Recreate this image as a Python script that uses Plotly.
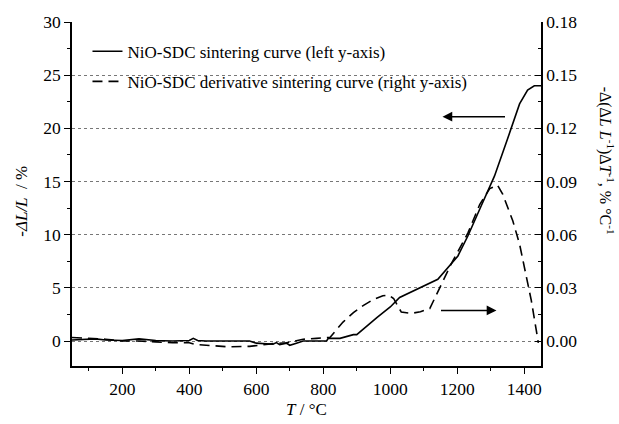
import plotly.graph_objects as go

# Sintering curve (left axis, -dL/L in %)
T_sint = [50, 80, 100, 120, 150, 200, 250, 280, 300, 350, 400, 412, 425, 450, 500, 550, 580,
          600, 630, 650, 660, 670, 690, 700, 720, 740, 780, 810, 815, 850, 890, 900,
          960, 1000, 1028, 1080, 1142, 1202, 1232, 1270, 1311, 1350, 1386, 1410, 1430, 1450]
dL_sint = [0.1, 0.15, 0.2, 0.2, 0.1, 0.05, 0.2, 0.1, 0.05, 0.0, 0.05, 0.25, 0.05, 0.0, 0.0, 0.0, 0.0,
           -0.2, -0.25, -0.3, -0.15, -0.35, -0.2, -0.4, -0.2, 0.0, 0.0, 0.0, 0.25, 0.25, 0.6, 0.6,
           2.2, 3.2, 4.1, 4.9, 5.8, 8.0, 9.9, 12.6, 15.5, 19.0, 22.3, 23.6, 24.0, 24.0]

# Derivative sintering curve (right axis, %/°C)
T_deriv = [50, 100, 150, 200, 250, 300, 350, 400, 420, 460, 520, 580, 620, 650, 690, 720, 740,
           780, 820, 859, 890, 919, 950, 978, 995, 1010, 1033, 1063, 1090, 1118, 1153, 1182,
           1232, 1267, 1297, 1320, 1336, 1366, 1386, 1406, 1421, 1436, 1442]
dv_deriv = [0.002, 0.0015, 0.001, 0.0, 0.0, -0.0005, -0.001, -0.001, -0.002, -0.0025, -0.0033, -0.003,
            -0.002, -0.0015, -0.001, 0.0, 0.001, 0.0015, 0.002, 0.0107, 0.016, 0.020, 0.0235, 0.0255,
            0.026, 0.024, 0.0163, 0.0156, 0.0165, 0.0183, 0.032, 0.0435, 0.061, 0.077, 0.086, 0.088,
            0.0827, 0.0677, 0.0547, 0.036, 0.0229, 0.006, -0.001]

x_ticks = [200, 400, 600, 800, 1000, 1200, 1400]
left_grid = [0, 5, 10, 15, 20, 25]

FONT = "Liberation Serif"
TF = dict(family=FONT, size=17.5, color="black")

fig = go.Figure()
fig.add_trace(go.Scatter(x=T_sint, y=dL_sint, mode="lines",
                         name="NiO-SDC sintering curve (left y-axis)",
                         line=dict(color="black", width=1.6), legendgroup="a"))
fig.add_trace(go.Scatter(x=T_deriv, y=dv_deriv, mode="lines", yaxis="y2",
                         name="NiO-SDC derivative sintering curve (right y-axis)",
                         line=dict(color="black", width=1.6, dash="10px,6px"), legendgroup="b"))

yr = [-2.35, 30]
fig.update_layout(
    width=619, height=424,
    margin=dict(l=72, r=78, t=20, b=58),
    plot_bgcolor="white", paper_bgcolor="white",
    font=dict(family=FONT, size=17, color="black"),
    showlegend=True,
    legend=dict(x=0.033, y=0.966, xanchor="left", yanchor="top", bgcolor="rgba(0,0,0,0)",
                font=dict(family=FONT, size=17, color="black"), tracegroupgap=5,
                traceorder="grouped"),
    xaxis=dict(range=[50, 1450], tickvals=x_ticks, ticks="outside", ticklen=6, tickwidth=1.2,
               minor=dict(dtick=100, tick0=0, ticks="outside", ticklen=3, tickcolor="black"),
               showline=True, linecolor="black", linewidth=1.5, showgrid=False, zeroline=False,
               tickcolor="black", tickfont=TF),
    yaxis=dict(range=yr, tick0=0, dtick=5, ticks="outside", ticklen=6, tickwidth=1.2,
               minor=dict(dtick=2.5, tick0=0, ticks="outside", ticklen=3, tickcolor="black"),
               showline=True, linecolor="black", linewidth=1.5, showgrid=False, zeroline=False,
               tickcolor="black", tickfont=TF),
    yaxis3=dict(range=yr, overlaying="y", tickvals=left_grid, showticklabels=False, ticks="",
                showgrid=True, gridcolor="#777777", griddash="dot", gridwidth=1,
                showline=False, zeroline=False),
    yaxis2=dict(range=[-0.0141, 0.18], overlaying="y", side="right", tick0=0, dtick=0.03,
                tickformat=".2f", ticks="inside", ticklen=6, tickwidth=1.2,
                minor=dict(dtick=0.015, tick0=0, ticks="inside", ticklen=3, tickcolor="black"),
                showline=True, linecolor="black", linewidth=1.5, showgrid=False, zeroline=False,
                tickcolor="black", tickfont=TF),
)

# invisible trace to make the grid axis render
fig.add_trace(go.Scatter(x=[None], y=[None], yaxis="y3", showlegend=False, hoverinfo="skip"))

AF = dict(family=FONT, size=17, color="black")
# axis titles
fig.add_annotation(text="<i>T</i> / °C", xref="paper", yref="paper", x=0.501, y=-0.127,
                   xanchor="center", yanchor="middle", showarrow=False, font=AF)
fig.add_annotation(text="<i>-ΔL/L</i>  / %", xref="paper", yref="paper", x=-0.107, y=0.48,
                   xanchor="center", yanchor="middle", showarrow=False, textangle=-90,
                   font=AF)
fig.add_annotation(text="-Δ(Δ<i>L</i> <i>L</i><sup>-1</sup>)Δ<i>T</i><sup>-1</sup>, % °C<sup>-1</sup>",
                   xref="paper", yref="paper", x=1.14, y=0.598,
                   xanchor="center", yanchor="middle", showarrow=False, textangle=90,
                   font=dict(family=FONT, size=16, color="black"))

# direction arrows
fig.add_annotation(x=1156, y=21.1, ax=1347, ay=21.1, xref="x", yref="y", axref="x", ayref="y",
                   text="", showarrow=True, arrowhead=2, arrowsize=1.3, arrowwidth=1.5,
                   arrowcolor="black")
fig.add_annotation(x=1317, y=2.88, ax=1147, ay=2.88, xref="x", yref="y", axref="x", ayref="y",
                   text="", showarrow=True, arrowhead=2, arrowsize=1.3, arrowwidth=1.5,
                   arrowcolor="black")

fig.write_html("out.html", config={"displayModeBar": False},
               post_script="document.body.style.margin='0';document.body.style.padding='0';")
